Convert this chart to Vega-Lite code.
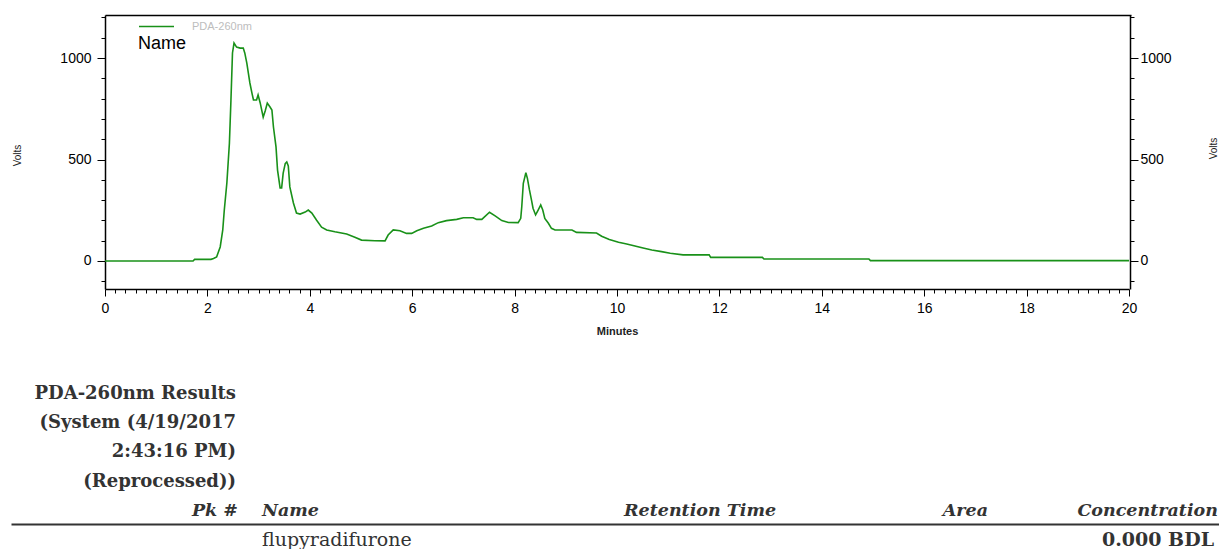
{
  "$schema": "https://vega.github.io/schema/vega-lite/v6.json",
  "width": 1219,
  "height": 549,
  "autosize": {"type": "none"},
  "padding": 0,
  "background": "white",
  "config": {"view": {"stroke": null}, "axis": {"grid": false, "domainColor": "black", "tickColor": "black", "labelColor": "black", "titleColor": "#222", "labelFont": "Liberation Sans", "titleFont": "Liberation Sans", "domainWidth": 1.5, "tickWidth": 1}},
  "datasets": {
    "trace": [
      {"min": 0, "v": 0}, {"min": 1.72, "v": 0}, {"min": 1.75, "v": 8}, {"min": 2.07, "v": 8}, {"min": 2.12, "v": 12},
      {"min": 2.18, "v": 20}, {"min": 2.25, "v": 69}, {"min": 2.30, "v": 153}, {"min": 2.33, "v": 251}, {"min": 2.38, "v": 384},
      {"min": 2.43, "v": 581}, {"min": 2.46, "v": 793}, {"min": 2.49, "v": 1025}, {"min": 2.52, "v": 1074}, {"min": 2.57, "v": 1054},
      {"min": 2.64, "v": 1049}, {"min": 2.70, "v": 1049}, {"min": 2.73, "v": 1025}, {"min": 2.77, "v": 975}, {"min": 2.80, "v": 926},
      {"min": 2.83, "v": 877}, {"min": 2.87, "v": 827}, {"min": 2.90, "v": 793}, {"min": 2.96, "v": 793}, {"min": 2.99, "v": 818},
      {"min": 3.03, "v": 780}, {"min": 3.09, "v": 709}, {"min": 3.13, "v": 740}, {"min": 3.17, "v": 778}, {"min": 3.22, "v": 760},
      {"min": 3.26, "v": 744}, {"min": 3.29, "v": 660}, {"min": 3.34, "v": 562}, {"min": 3.37, "v": 448}, {"min": 3.42, "v": 360},
      {"min": 3.45, "v": 360}, {"min": 3.48, "v": 433}, {"min": 3.52, "v": 480}, {"min": 3.55, "v": 488}, {"min": 3.58, "v": 468},
      {"min": 3.61, "v": 365}, {"min": 3.68, "v": 286}, {"min": 3.74, "v": 236}, {"min": 3.81, "v": 231}, {"min": 3.91, "v": 241},
      {"min": 3.97, "v": 251}, {"min": 4.04, "v": 236}, {"min": 4.13, "v": 202}, {"min": 4.23, "v": 167}, {"min": 4.33, "v": 153},
      {"min": 4.49, "v": 144}, {"min": 4.72, "v": 133}, {"min": 4.88, "v": 117}, {"min": 5.01, "v": 103}, {"min": 5.27, "v": 100},
      {"min": 5.47, "v": 99}, {"min": 5.53, "v": 128}, {"min": 5.63, "v": 153}, {"min": 5.76, "v": 149}, {"min": 5.89, "v": 136},
      {"min": 5.99, "v": 136}, {"min": 6.09, "v": 149}, {"min": 6.22, "v": 161}, {"min": 6.38, "v": 172}, {"min": 6.51, "v": 189},
      {"min": 6.67, "v": 199}, {"min": 6.87, "v": 205}, {"min": 7.00, "v": 213}, {"min": 7.19, "v": 213}, {"min": 7.26, "v": 205},
      {"min": 7.36, "v": 205}, {"min": 7.51, "v": 240}, {"min": 7.62, "v": 222}, {"min": 7.75, "v": 199}, {"min": 7.88, "v": 190},
      {"min": 8.07, "v": 189}, {"min": 8.12, "v": 210}, {"min": 8.14, "v": 267}, {"min": 8.17, "v": 383}, {"min": 8.22, "v": 435},
      {"min": 8.25, "v": 407}, {"min": 8.29, "v": 350}, {"min": 8.33, "v": 300}, {"min": 8.36, "v": 260}, {"min": 8.41, "v": 227},
      {"min": 8.46, "v": 251}, {"min": 8.51, "v": 276}, {"min": 8.55, "v": 251}, {"min": 8.59, "v": 210}, {"min": 8.66, "v": 186},
      {"min": 8.72, "v": 161}, {"min": 8.79, "v": 153}, {"min": 9.12, "v": 153}, {"min": 9.21, "v": 141}, {"min": 9.60, "v": 138},
      {"min": 9.70, "v": 122}, {"min": 9.85, "v": 106}, {"min": 10.03, "v": 92}, {"min": 10.19, "v": 84}, {"min": 10.35, "v": 74},
      {"min": 10.51, "v": 64}, {"min": 10.68, "v": 54}, {"min": 10.87, "v": 46}, {"min": 11.04, "v": 38}, {"min": 11.29, "v": 30},
      {"min": 11.80, "v": 30}, {"min": 11.83, "v": 18}, {"min": 12.84, "v": 18}, {"min": 12.87, "v": 10}, {"min": 14.92, "v": 10},
      {"min": 14.95, "v": 2}, {"min": 20, "v": 2}
    ],
    "results": [
      {"row": 1, "col": 1, "text": "PDA-260nm Results"},
      {"row": 2, "col": 1, "text": "(System (4/19/2017"},
      {"row": 3, "col": 1, "text": "2:43:16 PM)"},
      {"row": 4, "col": 1, "text": "(Reprocessed))"}
    ],
    "header": [
      {"row": 5, "col": 1, "text": "Pk #"},
      {"row": 5, "col": 2, "text": "Name"},
      {"row": 5, "col": 3, "text": "Retention Time"},
      {"row": 5, "col": 4, "text": "Area"},
      {"row": 5, "col": 5, "text": "Concentration"}
    ],
    "cells": [
      {"row": 6, "col": 2, "text": "flupyradifurone"},
      {"row": 6, "col": 5, "text": "0.000 BDL"}
    ]
  },
  "layer": [
    {
      "data": {"name": "trace"},
      "mark": {"type": "line", "color": "#199119", "strokeWidth": 1.6, "interpolate": "linear"},
      "encoding": {
        "x": {"field": "min", "type": "quantitative",
          "scale": {"domain": [0, 20], "range": [105, 1129], "nice": false, "zero": false},
          "axis": {"orient": "bottom", "offset": -260, "tickCount": 200,
            "values": [0,0.2,0.4,0.6,0.8,1,1.2,1.4,1.6,1.8,2,2.2,2.4,2.6,2.8,3,3.2,3.4,3.6,3.8,4,4.2,4.4,4.6,4.8,5,5.2,5.4,5.6,5.8,6,6.2,6.4,6.6,6.8,7,7.2,7.4,7.6,7.8,8,8.2,8.4,8.6,8.8,9,9.2,9.4,9.6,9.8,10,10.2,10.4,10.6,10.8,11,11.2,11.4,11.6,11.8,12,12.2,12.4,12.6,12.8,13,13.2,13.4,13.6,13.8,14,14.2,14.4,14.6,14.8,15,15.2,15.4,15.6,15.8,16,16.2,16.4,16.6,16.8,17,17.2,17.4,17.6,17.8,18,18.2,18.4,18.6,18.8,19,19.2,19.4,19.6,19.8,20],
            "tickSize": {"condition": {"test": "datum.value % 2 === 0", "value": 7}, "value": 4},
            "labelExpr": "datum.value % 2 === 0 ? format(datum.value, 'd') : ''",
            "labelPadding": 5, "labelFontSize": 14, "labelFlush": false, "labelOverlap": false, "labelBound": false,
            "title": "Minutes", "titleFontSize": 11, "titleFontWeight": "bold", "titleX": 617, "titleY": 42, "titleBaseline": "middle", "titleAlign": "center"}},
        "y": {"field": "v", "type": "quantitative",
          "scale": {"domain": [-138, 1212], "range": [289, 15], "nice": false, "zero": false},
          "axis": {"orient": "left", "offset": -105, "tickCount": 50,
            "values": [-100, 0, 100, 200, 300, 400, 500, 600, 700, 800, 900, 1000, 1100, 1200],
            "tickSize": {"condition": {"test": "datum.value % 500 === 0", "value": 8}, "value": 4},
            "labelExpr": "datum.value % 500 === 0 ? format(datum.value, 'd') : ''",
            "labelPadding": 6, "labelFontSize": 14, "labelFlush": false, "labelOverlap": false, "labelBound": false,
            "title": "Volts", "titleFontSize": 10, "titleFontWeight": "normal", "titleX": -88, "titleY": 155, "titleAngle": 270, "titleBaseline": "middle", "titleAlign": "center"}},
        "color": {"datum": "PDA-260nm", "type": "nominal", "scale": {"range": ["#199119"]},
          "legend": {"orient": "none", "legendX": 138, "legendY": 8, "padding": 0, "title": "Name", "titleOrient": "bottom", "titleAnchor": "start", "titlePadding": 3,
            "titleFont": "Liberation Sans", "titleFontSize": 18, "titleFontWeight": "normal", "titleColor": "black",
            "labelFont": "Liberation Sans", "labelFontSize": 11, "labelColor": "#bdbdbd", "labelOffset": 17,
            "symbolType": "stroke", "symbolSize": 1225, "symbolStrokeWidth": 1.5}}
      }
    },
    {
      "data": {"name": "trace"},
      "mark": {"type": "line", "opacity": 0},
      "encoding": {
        "x": {"field": "min", "type": "quantitative",
          "scale": {"domain": [0, 20], "range": [105, 1131], "nice": false, "zero": false},
          "axis": {"orient": "top", "offset": -15, "ticks": false, "labels": false, "title": null}},
        "y": {"field": "v", "type": "quantitative",
          "scale": {"domain": [-138, 1212], "range": [289, 15], "nice": false, "zero": false},
          "axis": {"orient": "right", "offset": -89, "tickCount": 50,
            "values": [-100, 0, 100, 200, 300, 400, 500, 600, 700, 800, 900, 1000, 1100, 1200],
            "tickSize": {"condition": {"test": "datum.value % 500 === 0", "value": 8}, "value": 4},
            "labelExpr": "datum.value % 500 === 0 ? format(datum.value, 'd') : ''",
            "labelPadding": 2, "labelFontSize": 14, "labelFlush": false, "labelOverlap": false, "labelBound": false,
            "title": "Volts", "titleFontSize": 10, "titleFontWeight": "normal", "titleX": 83, "titleY": 148, "titleAngle": 270, "titleBaseline": "middle", "titleAlign": "center"}}
      }
    },
    {
      "data": {"name": "results"},
      "mark": {"type": "text", "align": "right", "baseline": "middle", "font": "DejaVu Serif", "fontWeight": "bold", "fontSize": 18, "color": "#333"},
      "encoding": {
        "x": {"field": "col", "type": "quantitative", "scale": {"domain": [0, 1, 2, 3, 4, 5], "range": [11, 236, 262, 624, 988, 1219], "nice": false, "zero": false}, "axis": null},
        "y": {"field": "row", "type": "quantitative", "scale": {"domain": [1, 6], "range": [394, 540], "nice": false, "zero": false}, "axis": null},
        "text": {"field": "text"}
      }
    },
    {
      "data": {"name": "header"},
      "transform": [{"filter": "datum.col == 1 || datum.col >= 4"}],
      "mark": {"type": "text", "align": "right", "baseline": "middle", "font": "DejaVu Serif", "fontWeight": "bold", "fontStyle": "italic", "fontSize": 17.5, "color": "#333"},
      "encoding": {
        "x": {"field": "col", "type": "quantitative", "scale": {"domain": [0, 1, 2, 3, 4, 5], "range": [11, 238, 262, 624, 988, 1218], "nice": false, "zero": false}, "axis": null},
        "y": {"field": "row", "type": "quantitative", "scale": {"domain": [1, 6], "range": [394, 540], "nice": false, "zero": false}, "axis": null},
        "text": {"field": "text"}
      }
    },
    {
      "data": {"name": "header"},
      "transform": [{"filter": "datum.col == 2 || datum.col == 3"}],
      "mark": {"type": "text", "align": "left", "baseline": "middle", "font": "DejaVu Serif", "fontWeight": "bold", "fontStyle": "italic", "fontSize": 17.5, "color": "#333"},
      "encoding": {
        "x": {"field": "col", "type": "quantitative", "scale": {"domain": [0, 1, 2, 3, 4, 5], "range": [11, 238, 262, 624, 988, 1219], "nice": false, "zero": false}, "axis": null},
        "y": {"field": "row", "type": "quantitative", "scale": {"domain": [1, 6], "range": [394, 540], "nice": false, "zero": false}, "axis": null},
        "text": {"field": "text"}
      }
    },
    {
      "data": {"name": "cells"},
      "transform": [{"filter": "datum.col == 2"}],
      "mark": {"type": "text", "align": "left", "baseline": "middle", "font": "DejaVu Serif", "fontSize": 19, "color": "#333"},
      "encoding": {
        "x": {"field": "col", "type": "quantitative", "scale": {"domain": [0, 1, 2, 3, 4, 5], "range": [11, 238, 262, 624, 988, 1219], "nice": false, "zero": false}, "axis": null},
        "y": {"field": "row", "type": "quantitative", "scale": {"domain": [1, 6], "range": [394, 540], "nice": false, "zero": false}, "axis": null},
        "text": {"field": "text"}
      }
    },
    {
      "data": {"name": "cells"},
      "transform": [{"filter": "datum.col == 5"}],
      "mark": {"type": "text", "align": "right", "baseline": "middle", "font": "DejaVu Serif", "fontWeight": "bold", "fontSize": 19, "color": "#333"},
      "encoding": {
        "x": {"field": "col", "type": "quantitative", "scale": {"domain": [0, 1, 2, 3, 4, 5], "range": [11, 238, 262, 624, 988, 1214], "nice": false, "zero": false},
          "axis": null},
        "y": {"field": "row", "type": "quantitative", "scale": {"domain": [1, 6], "range": [394, 540], "nice": false, "zero": false}, "axis": null},
        "text": {"field": "text"}
      }
    },
    {
      "data": {"name": "cells"},
      "mark": {"type": "line", "opacity": 0},
      "encoding": {
        "x": {"field": "col", "type": "quantitative", "scale": {"domain": [0, 5], "range": [11, 1219], "nice": false, "zero": false},
          "axis": {"orient": "bottom", "offset": -25, "ticks": false, "labels": false, "title": null, "domainColor": "#333", "domainWidth": 2}},
        "y": {"field": "row", "type": "quantitative", "scale": {"domain": [1, 6], "range": [394, 540], "nice": false, "zero": false}, "axis": null}
      }
    }
  ],
  "resolve": {"scale": {"x": "independent", "y": "independent", "color": "independent"}}
}
